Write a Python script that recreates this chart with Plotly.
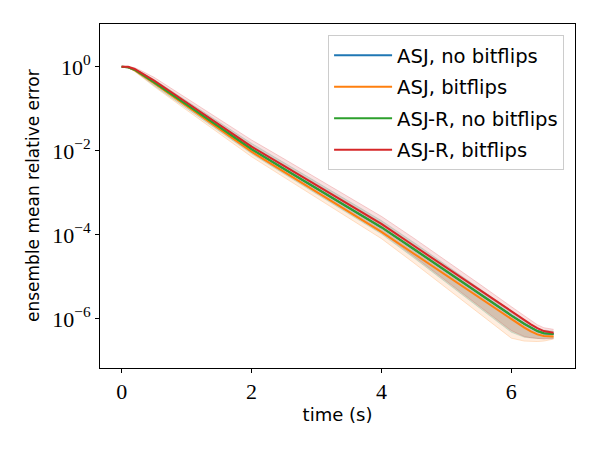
import numpy as np
import plotly.graph_objects as go

# time (s)
time_s = [0, 0.1, 0.2, 0.3, 0.5, 1.0, 1.5, 2.0, 2.5, 3.0, 3.5, 4.0, 4.5, 5.0, 5.5, 6.0, 6.2, 6.3, 6.4, 6.5, 6.65]

# log10 of ensemble mean relative error
asj_nb_log10 = [0, -0.01, -0.07, -0.17, -0.37, -0.90, -1.43, -1.96, -2.43, -2.90, -3.36, -3.82, -4.34, -4.87, -5.39, -5.92, -6.12, -6.21, -6.29, -6.34, -6.36]
asj_b_log10 = [0, -0.01, -0.08, -0.18, -0.39, -0.93, -1.48, -2.02, -2.50, -2.98, -3.46, -3.93, -4.45, -4.97, -5.49, -6.01, -6.21, -6.30, -6.37, -6.41, -6.42]
asjr_nb_log10 = [0, -0.01, -0.07, -0.17, -0.37, -0.90, -1.43, -1.96, -2.43, -2.90, -3.36, -3.82, -4.34, -4.87, -5.39, -5.92, -6.12, -6.21, -6.29, -6.34, -6.36]
asjr_b_log10 = [0, 0, -0.05, -0.14, -0.33, -0.85, -1.37, -1.90, -2.36, -2.82, -3.28, -3.74, -4.26, -4.78, -5.31, -5.83, -6.03, -6.13, -6.22, -6.29, -6.33]

# spread of the ensemble, in decades above / below each curve
asj_nb_up = [0, 0.005, 0.03, 0.05, 0.07, 0.10, 0.12, 0.14, 0.15, 0.16, 0.16, 0.16, 0.16, 0.15, 0.14, 0.11, 0.09, 0.08, 0.07, 0.07, 0.07]
asj_nb_down = [0, 0.005, 0.03, 0.05, 0.08, 0.09, 0.10, 0.11, 0.12, 0.13, 0.14, 0.16, 0.21, 0.27, 0.34, 0.40, 0.32, 0.25, 0.18, 0.13, 0.10]
asj_b_up = [0, 0.005, 0.03, 0.05, 0.07, 0.10, 0.12, 0.14, 0.15, 0.16, 0.16, 0.16, 0.16, 0.15, 0.14, 0.11, 0.09, 0.08, 0.07, 0.07, 0.07]
asj_b_down = [0, 0.005, 0.03, 0.05, 0.08, 0.10, 0.11, 0.12, 0.13, 0.14, 0.15, 0.16, 0.22, 0.29, 0.37, 0.45, 0.32, 0.24, 0.17, 0.12, 0.06]
asjr_nb_up = asj_nb_up
asjr_nb_down = asj_nb_down
asjr_b_up = [0, 0.005, 0.03, 0.05, 0.08, 0.11, 0.14, 0.16, 0.17, 0.18, 0.18, 0.18, 0.18, 0.17, 0.15, 0.12, 0.10, 0.09, 0.08, 0.08, 0.08]
asjr_b_down = [0, 0.005, 0.03, 0.05, 0.08, 0.09, 0.10, 0.12, 0.13, 0.15, 0.17, 0.20, 0.25, 0.31, 0.38, 0.45, 0.39, 0.32, 0.25, 0.19, 0.14]

labels = ["ASJ, no bitflips", "ASJ, bitflips", "ASJ-R, no bitflips", "ASJ-R, bitflips"]
colors = ["#1f77b4", "#ff7f0e", "#2ca02c", "#d62728"]
fills = ["rgba(31,119,180,0.11)", "rgba(255,127,14,0.13)", "rgba(44,160,44,0.11)", "rgba(214,39,40,0.14)"]
edges = ["rgba(31,119,180,0.1)", "rgba(255,127,14,0.3)", "rgba(44,160,44,0.1)", "rgba(214,39,40,0.28)"]

means = [asj_nb_log10, asj_b_log10, asjr_nb_log10, asjr_b_log10]
ups = [asj_nb_up, asj_b_up, asjr_nb_up, asjr_b_up]
downs = [asj_nb_down, asj_b_down, asjr_nb_down, asjr_b_down]

y_tick_exps = [0, -2, -4, -6]
x_ticks = [0, 2, 4, 6]

fig = go.Figure()
t = np.array(time_s)
for i in range(4):
    m = np.array(means[i])
    lo = m - np.array(downs[i])
    hi = m + np.array(ups[i])
    fig.add_trace(go.Scatter(x=t, y=10 ** lo, mode="lines", legendgroup="g%d" % i,
                             line=dict(width=0.7, color=edges[i]), showlegend=False, hoverinfo="skip"))
    fig.add_trace(go.Scatter(x=t, y=10 ** hi, mode="lines", fill="tonexty", legendgroup="g%d" % i,
                             fillcolor=fills[i], line=dict(width=0.7, color=edges[i]),
                             showlegend=False, hoverinfo="skip"))
for i in range(4):
    fig.add_trace(go.Scatter(x=t, y=10 ** np.array(means[i]), mode="lines", name=labels[i],
                             legendgroup="g%d" % i, line=dict(color=colors[i], width=2)))

serif = dict(family="Liberation Serif", size=22, color="black")
sans = dict(family="DejaVu Sans", size=18, color="black")
sans_y = dict(family="DejaVu Sans", size=17, color="black")

# the page body adds an 8px offset, compensated in the margins
fig.update_layout(
    width=600, height=450,
    margin=dict(l=92, r=33, t=16, b=90),
    paper_bgcolor="white", plot_bgcolor="white",
    showlegend=True,
    legend=dict(x=0.977, y=0.968, xanchor="right", yanchor="top", traceorder="grouped",
                bgcolor="rgba(255,255,255,0.8)", bordercolor="#cccccc", borderwidth=1,
                font=dict(family="DejaVu Sans", size=19.6, color="black"),
                itemwidth=58, tracegroupgap=3),
    xaxis=dict(range=[-0.333, 6.98], tickvals=x_ticks, ticktext=[str(v) for v in x_ticks],
               showline=True, linecolor="black", linewidth=1, mirror=True,
               ticks="outside", ticklen=4, tickcolor="black", showgrid=False, zeroline=False,
               tickfont=serif, title=dict(text="time (s)", font=sans, standoff=4)),
    yaxis=dict(type="log", range=[-7.17, 1.02],
               tickvals=[10.0 ** e for e in y_tick_exps],
               ticktext=["10<sup>%s</sup>" % (str(e).replace("-", "\u2212")) for e in y_tick_exps],
               showline=True, linecolor="black", linewidth=1, mirror=True,
               ticks="outside", ticklen=4, tickcolor="black", showgrid=False, zeroline=False,
               tickfont=serif),
    annotations=[dict(text="ensemble mean relative error", xref="paper", yref="paper",
                      x=-0.141, y=0.5, xanchor="center", yanchor="middle", textangle=-90,
                      showarrow=False, font=sans_y)],
)

fig.write_html("out.html")
